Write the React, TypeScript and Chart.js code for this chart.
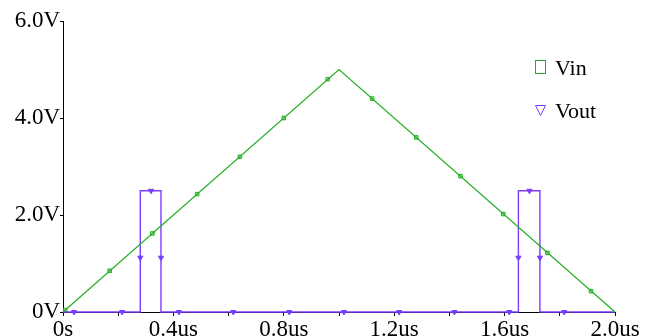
import React, { useEffect, useRef } from "react";
import { Chart, registerables } from "chart.js";

Chart.register(...registerables);

// Vin: triangle wave (time in us, volts)
const vinTimes = [0, 1.0, 2.0];
const vinValues = [0, 5.0, 0];

// Vout: pulses
const voutTimes = [0, 0.28, 0.28, 0.355, 0.355, 1.65, 1.65, 1.728, 1.728, 2.0];
const voutValues = [0, 0, 2.5, 2.5, 0, 0, 2.5, 2.5, 0, 0];

// Marker positions
const vinMarkerTimes = [0.008, 0.169, 0.324, 0.486, 0.641, 0.8, 0.959, 1.12, 1.28, 1.44, 1.595, 1.755, 1.913];
const vinMarkerValues = [0.04, 0.85, 1.62, 2.43, 3.2, 4.0, 4.8, 4.4, 3.6, 2.8, 2.02, 1.22, 0.43];
const voutMarkerTimes = [0.04, 0.214, 0.28, 0.319, 0.355, 0.42, 0.617, 0.82, 1.018, 1.218, 1.418, 1.617, 1.65, 1.69, 1.728, 1.816];
const voutMarkerValues = [0, 0, 1.12, 2.5, 1.12, 0, 0, 0, 0, 0, 0, 0, 1.12, 2.5, 1.12, 0];

const seriesNames = ["Vin", "Vout"];
const xTickLabels = ["0s", "0.4us", "0.8us", "1.2us", "1.6us", "2.0us"];
const yTickLabels = ["0V", "2.0V", "4.0V", "6.0V"];

const GREEN = "#22b022";
const PURPLE = "#7a3cff";
const FONT = "'Liberation Serif', 'Times New Roman', serif";

const zip = (xs: number[], ys: number[]) => xs.map((x, i) => ({ x, y: ys[i] }));

const legendPlugin = {
  id: "customLegend",
  afterDraw(chart: any) {
    const ctx = chart.ctx;
    ctx.save();
    ctx.font = `22px ${FONT}`;
    ctx.fillStyle = "#000";
    ctx.textBaseline = "alphabetic";
    ctx.textAlign = "left";
    // Vin
    ctx.strokeStyle = GREEN;
    ctx.lineWidth = 1;
    ctx.strokeRect(535.5, 60.5, 10, 13);
    ctx.fillText(seriesNames[0], 555, 75);
    // Vout
    ctx.strokeStyle = PURPLE;
    ctx.beginPath();
    ctx.moveTo(535.5, 105.5);
    ctx.lineTo(545.5, 105.5);
    ctx.lineTo(540.5, 115.5);
    ctx.closePath();
    ctx.stroke();
    ctx.fillText(seriesNames[1], 555, 118);
    ctx.restore();
  },
};

export default function App() {
  const ref = useRef<HTMLCanvasElement>(null);
  useEffect(() => {
    document.body.style.margin = "0";
    const chart = new Chart(ref.current!, {
      type: "scatter",
      data: {
        datasets: [
          {
            label: seriesNames[0],
            data: zip(vinTimes, vinValues),
            showLine: true,
            borderColor: GREEN,
            borderWidth: 1.2,
            pointRadius: 0,
            clip: false as any,
          },
          {
            label: seriesNames[1],
            data: zip(voutTimes, voutValues),
            showLine: true,
            borderColor: PURPLE,
            borderWidth: 1.4,
            pointRadius: 0,
            clip: false as any,
          },
          {
            label: seriesNames[0] + " markers",
            data: zip(vinMarkerTimes, vinMarkerValues),
            showLine: false,
            pointStyle: "rect",
            pointRadius: 2.5,
            borderColor: GREEN,
            backgroundColor: "rgba(120,210,120,0.6)",
            borderWidth: 1,
            clip: false as any,
          },
          {
            label: seriesNames[1] + " markers",
            data: zip(voutMarkerTimes, voutMarkerValues),
            showLine: false,
            pointStyle: "triangle",
            rotation: 180,
            pointRadius: 3,
            borderColor: PURPLE,
            backgroundColor: PURPLE,
            borderWidth: 1,
            clip: false as any,
          },
        ],
      },
      options: {
        responsive: false,
        maintainAspectRatio: false,
        animation: false,
        devicePixelRatio: 1,
        layout: { padding: { left: 0, right: 41, top: 21, bottom: 0 } },
        plugins: {
          legend: { display: false },
          tooltip: { enabled: false },
        },
        scales: {
          x: {
            type: "linear",
            min: 0,
            max: 2,
            afterFit: (s: any) => {
              s.height = 24;
            },
            border: { display: true, color: "#000", width: 1 },
            grid: { drawOnChartArea: false, drawTicks: true, tickLength: 4, color: "#000" },
            ticks: {
              stepSize: 0.2,
              autoSkip: false,
              maxRotation: 0,
              padding: 0,
              color: "#000",
              font: { family: FONT, size: 23 },
              callback: (v: any) => {
                const i = Math.round(Number(v) * 5);
                return i % 2 === 0 ? xTickLabels[i / 2] : "";
              },
            },
          },
          y: {
            type: "linear",
            min: 0,
            max: 6,
            afterFit: (s: any) => {
              s.width = 63;
            },
            border: { display: true, color: "#000", width: 1 },
            grid: { drawOnChartArea: false, drawTicks: true, tickLength: 3, color: "#000" },
            ticks: {
              stepSize: 2,
              padding: 0,
              color: "#000",
              font: { family: FONT, size: 23 },
              callback: (v: any) => yTickLabels[Math.round(Number(v) / 2)],
            },
          },
        },
      },
      plugins: [legendPlugin],
    });
    return () => chart.destroy();
  }, []);
  return (
    <div style={{ width: 656, height: 336 }}>
      <canvas ref={ref} width={656} height={336} />
    </div>
  );
}
